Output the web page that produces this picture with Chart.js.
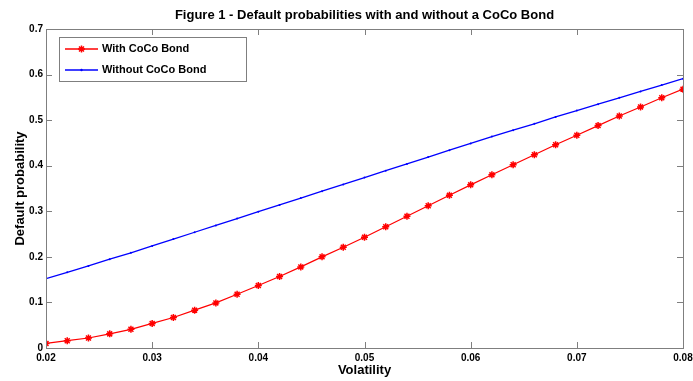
<!DOCTYPE html>
<html>
<head>
<meta charset="utf-8">
<script src="https://cdn.jsdelivr.net/npm/chart.js@4/dist/chart.umd.min.js"></script>
<style>
  html, body { margin: 0; padding: 0; background: #fff; }
  #wrap { width: 693px; height: 381px; }
</style>
</head>
<body>
<div id="wrap"><canvas id="chart" width="693" height="381"></canvas></div>
<script>
// volatility grid (x), step 0.002
const volatility = [0.020, 0.022, 0.024, 0.026, 0.028, 0.030, 0.032, 0.034, 0.036, 0.038,
    0.040, 0.042, 0.044, 0.046, 0.048, 0.050, 0.052, 0.054, 0.056, 0.058,
    0.060, 0.062, 0.064, 0.066, 0.068, 0.070, 0.072, 0.074, 0.076, 0.078, 0.080];
const withCoco = [0.010, 0.016, 0.022, 0.031, 0.041, 0.054, 0.067, 0.083, 0.099, 0.118,
    0.137, 0.157, 0.178, 0.200, 0.221, 0.243, 0.266, 0.289, 0.312, 0.335,
    0.358, 0.380, 0.402, 0.424, 0.446, 0.467, 0.488, 0.509, 0.529, 0.549, 0.568];
const withoutCoco = [0.152, 0.166, 0.180, 0.195, 0.209, 0.224, 0.239, 0.254, 0.269, 0.284,
    0.299, 0.314, 0.329, 0.344, 0.359, 0.374, 0.389, 0.404, 0.419, 0.434,
    0.449, 0.464, 0.478, 0.492, 0.507, 0.521, 0.535, 0.549, 0.563, 0.577, 0.591];
const xTicks = [0.02, 0.03, 0.04, 0.05, 0.06, 0.07, 0.08];
const yTicks = [0, 0.1, 0.2, 0.3, 0.4, 0.5, 0.6, 0.7];
const seriesNames = ["With CoCo Bond", "Without CoCo Bond"];

const FONT = "Arial, 'Liberation Sans', sans-serif";
const frameColor = "#7f7f7f";

function toPoints(xs, ys) {
    return xs.map((x, i) => ({ x: x, y: ys[i] }));
}

// frame, inward ticks, title, axis labels, legend
const decor = {
    id: "decor",
    afterDraw(chart) {
        const ctx = chart.ctx;
        const a = chart.chartArea;
        const xs = chart.scales.x, ys = chart.scales.y;
        ctx.save();
        ctx.strokeStyle = frameColor;
        ctx.lineWidth = 1;
        ctx.strokeRect(a.left + 0.5, a.top + 0.5, a.right - a.left, a.bottom - a.top);
        ctx.beginPath();
        for (const t of xTicks) {
            const px = Math.round(xs.getPixelForValue(t)) + 0.5;
            ctx.moveTo(px, a.bottom); ctx.lineTo(px, a.bottom - 6);
            ctx.moveTo(px, a.top); ctx.lineTo(px, a.top + 6);
        }
        for (const t of yTicks) {
            const py = Math.round(ys.getPixelForValue(t)) + 0.5;
            ctx.moveTo(a.left, py); ctx.lineTo(a.left + 6, py);
            ctx.moveTo(a.right, py); ctx.lineTo(a.right - 6, py);
        }
        ctx.stroke();

        ctx.fillStyle = "#000";
        ctx.textAlign = "center";
        ctx.textBaseline = "middle";
        ctx.font = "bold 13px " + FONT;
        ctx.fillText("Figure 1 - Default probabilities with and without a CoCo Bond", (a.left + a.right) / 2, 15);
        ctx.fillText("Volatility", (a.left + a.right) / 2, 370);
        ctx.save();
        ctx.translate(20, (a.top + a.bottom) / 2);
        ctx.rotate(-Math.PI / 2);
        ctx.fillText("Default probability", 0, 0);
        ctx.restore();

        // legend box
        const lx = 59, ly = 37, lw = 187, lh = 44;
        ctx.fillStyle = "#fff";
        ctx.fillRect(lx, ly, lw, lh);
        ctx.strokeStyle = frameColor;
        ctx.strokeRect(lx + 0.5, ly + 0.5, lw, lh);
        const rows = [
            { y: 49, color: "#ff0000", star: true },
            { y: 70, color: "#0000ff", star: false }
        ];
        rows.forEach((r, i) => {
            ctx.strokeStyle = r.color;
            ctx.lineWidth = 1.3;
            ctx.beginPath();
            ctx.moveTo(65, r.y); ctx.lineTo(98, r.y);
            ctx.stroke();
            if (r.star) {
                ctx.lineWidth = 1.5;
                Chart.helpers.drawPoint(ctx, { pointStyle: "star", radius: 3.5, borderWidth: 1.5 }, 81.5, r.y);
            } else {
                ctx.fillStyle = r.color;
                ctx.beginPath(); ctx.arc(81.5, r.y, 1.2, 0, Math.PI * 2); ctx.fill();
            }
            ctx.fillStyle = "#000";
            ctx.textAlign = "left";
            ctx.font = "bold 11px " + FONT;
            ctx.fillText(seriesNames[i], 102, r.y);
        });
        ctx.restore();
    }
};

new Chart(document.getElementById("chart"), {
    type: "scatter",
    data: {
        datasets: [
            {
                label: seriesNames[0],
                data: toPoints(volatility, withCoco),
                showLine: true,
                borderColor: "#ff0000",
                backgroundColor: "#ff0000",
                borderWidth: 1.2,
                pointStyle: "star",
                pointRadius: 3.5,
                pointBorderWidth: 1.5,
                pointBorderColor: "#ff0000"
            },
            {
                label: seriesNames[1],
                data: toPoints(volatility, withoutCoco),
                showLine: true,
                borderColor: "#0000ff",
                backgroundColor: "#0000ff",
                borderWidth: 1.3,
                pointStyle: "circle",
                pointRadius: 1,
                pointBorderWidth: 0
            }
        ]
    },
    options: {
        responsive: false,
        animation: false,
        layout: { padding: { left: 0, top: 29, right: 10, bottom: 0 } },
        plugins: {
            legend: { display: false },
            tooltip: { enabled: false }
        },
        scales: {
            x: {
                type: "linear",
                min: 0.02,
                max: 0.08,
                afterFit(s) { s.height = 33; s.paddingLeft = 0; s.paddingRight = 0; },
                afterBuildTicks(s) { s.ticks = xTicks.map(v => ({ value: v })); },
                grid: { display: false, drawTicks: false },
                border: { display: false },
                ticks: {
                    padding: 4,
                    color: "#000",
                    font: { family: FONT, size: 10, weight: "bold" },
                    maxRotation: 0,
                    autoSkip: false,
                    callback: v => v.toFixed(2)
                }
            },
            y: {
                min: 0,
                max: 0.7,
                afterFit(s) { s.width = 46; s.paddingTop = 0; s.paddingBottom = 0; },
                afterBuildTicks(s) { s.ticks = yTicks.map(v => ({ value: v })); },
                grid: { display: false, drawTicks: false },
                border: { display: false },
                ticks: {
                    padding: 3,
                    color: "#000",
                    font: { family: FONT, size: 10, weight: "bold" },
                    autoSkip: false,
                    callback: v => (v === 0 ? "0" : v.toFixed(1))
                }
            }
        }
    },
    plugins: [decor]
});
</script>
</body>
</html>
